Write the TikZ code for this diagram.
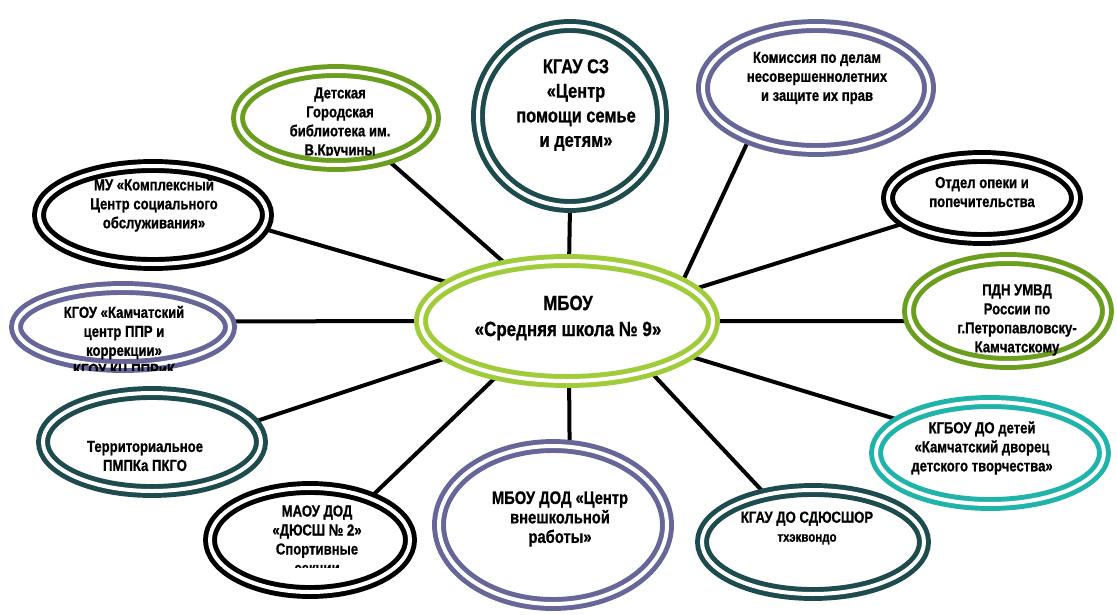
\documentclass[tikz,border=0pt]{standalone}
\usepackage{fontspec}
\setmainfont[FakeStretch=0.82, BoldFeatures={FakeBold=0.8}]{Liberation Sans}
\usetikzlibrary{shapes.geometric,backgrounds}
\definecolor{cblack}{HTML}{000000}
\definecolor{cteal}{HTML}{1E4B4D}
\definecolor{cpurple}{HTML}{666699}
\definecolor{cgreen}{HTML}{6B9E1F}
\definecolor{clime}{HTML}{A0CC3A}
\definecolor{caqua}{HTML}{1FB3AA}
\tikzset{
 ring/.style={ellipse, draw=#1, fill=white, line width=3.7pt, double=white, double distance=3pt, inner sep=0pt, outer sep=0pt},
 lbl/.style={align=center, font=\bfseries\fontsize{12}{14.25}\selectfont, inner sep=0pt},
 link/.style={line width=3pt, draw=black},
}
\begin{document}
\begin{tikzpicture}[x=0.75pt,y=-0.75pt]
\useasboundingbox (0,0) rectangle (1117,614);
% outer rings
\node[ring=cblack,  minimum width=171pt,   minimum height=73.5pt] (U) at (153,215) {};
\node[ring=cgreen,  minimum width=147pt,   minimum height=70.5pt] (D) at (336,118) {};
\node[ring=cteal,   minimum width=138pt,   minimum height=135pt]  (K) at (570,116) {};
\node[ring=cpurple, minimum width=169.5pt, minimum height=93pt]   (M) at (816,88) {};
\node[ring=cblack,  minimum width=141pt,   minimum height=61.5pt] (O) at (982,198) {};
\node[ring=cpurple, minimum width=160.5pt, minimum height=58.5pt] (G) at (123,327) {};
\node[ring=cgreen,  minimum width=148.5pt, minimum height=78pt]   (P) at (1008,311) {};
\node[ring=cteal,   minimum width=163.5pt, minimum height=73.5pt] (T) at (152,442) {};
\node[ring=caqua,   minimum width=171pt,   minimum height=76.5pt] (B) at (990,453) {};
\node[ring=cblack,  minimum width=150pt,   minimum height=78pt]   (A) at (310,540) {};
\node[ring=cpurple, minimum width=171pt,   minimum height=118.5pt](W) at (553,525) {};
\node[ring=cteal,   minimum width=166.5pt, minimum height=78pt]   (S) at (813,542) {};
\node[ring=clime,   minimum width=219pt,   minimum height=90pt]   (C) at (567,321) {};
% connectors
\begin{scope}[on background layer]
\draw[link] (C.137.8) -- (D.-39.6);
\draw[link] (C.88) -- (K.-90);
\draw[link] (C.18.6) -- (M.217.4);
\draw[link] (C.14.3) -- (O.198.3);
\draw[link] (C.0) -- (P.186);
\draw[link] (C.-16.9) -- (B.160.4);
\draw[link] (C.-31.5) -- (S.135.8);
\draw[link] (C.-88) -- (W.78);
\draw[link] (C.-142.4) -- (A.35.1);
\draw[link] (C.197) -- (T.11.7);
\draw[link] (C.180) -- (G.3);
\draw[link] (C.162.3) -- (U.-7.9);
\end{scope}
% labels
\node[lbl, font=\bfseries\fontsize{15.5}{19.5}\selectfont] (tC) at (568,318) {МБОУ\\«Средняя школа № 9»};
\begin{scope}
\clip (200,60) rectangle (480,155);
\node[lbl] (tD) at (340,123) {Детская\\Городская\\библиотека им.\\В.Кручины};
\end{scope}
\node[lbl, font=\bfseries\fontsize{15}{18.4}\selectfont] (tK) at (576,105) {КГАУ СЗ\\«Центр\\помощи семье\\и детям»};
\node[lbl] (tM) at (817,78) {Комиссия по делам\\несовершеннолетних\\и защите их прав};
\node[lbl] (tU) at (154,205) {МУ «Комплексный\\Центр социального\\обслуживания»};
\node[lbl] (tO) at (982,192) {Отдел опеки и\\попечительства};
\begin{scope}
\clip (0,290) rectangle (250,370);
\node[lbl] (tG) at (124,342) {КГОУ «Камчатский\\центр ППР и\\коррекции»\\КГОУ КЦ ППРиК};
\end{scope}
\node[lbl] (tP) at (1017,320) {ПДН УМВД\\России по\\г.Петропавловску-\\Камчатскому};
\node[lbl] (tT) at (145,456) {Территориальное\\ПМПКа ПКГО};
\node[lbl] (tB) at (982,448) {КГБОУ ДО детей\\«Камчатский дворец\\детского творчества»};
\begin{scope}
\clip (200,480) rectangle (420,567);
\node[lbl] (tA) at (317,541) {МАОУ ДОД\\«ДЮСШ № 2»\\Спортивные\\секции};
\end{scope}
\node[lbl, font=\bfseries\fontsize{13.5}{14.6}\selectfont] (tW) at (560,519) {МБОУ ДОД «Центр\\внешкольной\\работы»};
\node[lbl] (tS) at (807,528) {КГАУ ДО СДЮСШОР\\{\fontsize{10.5}{13}\selectfont тхэквондо}};
\end{tikzpicture}
\end{document}
